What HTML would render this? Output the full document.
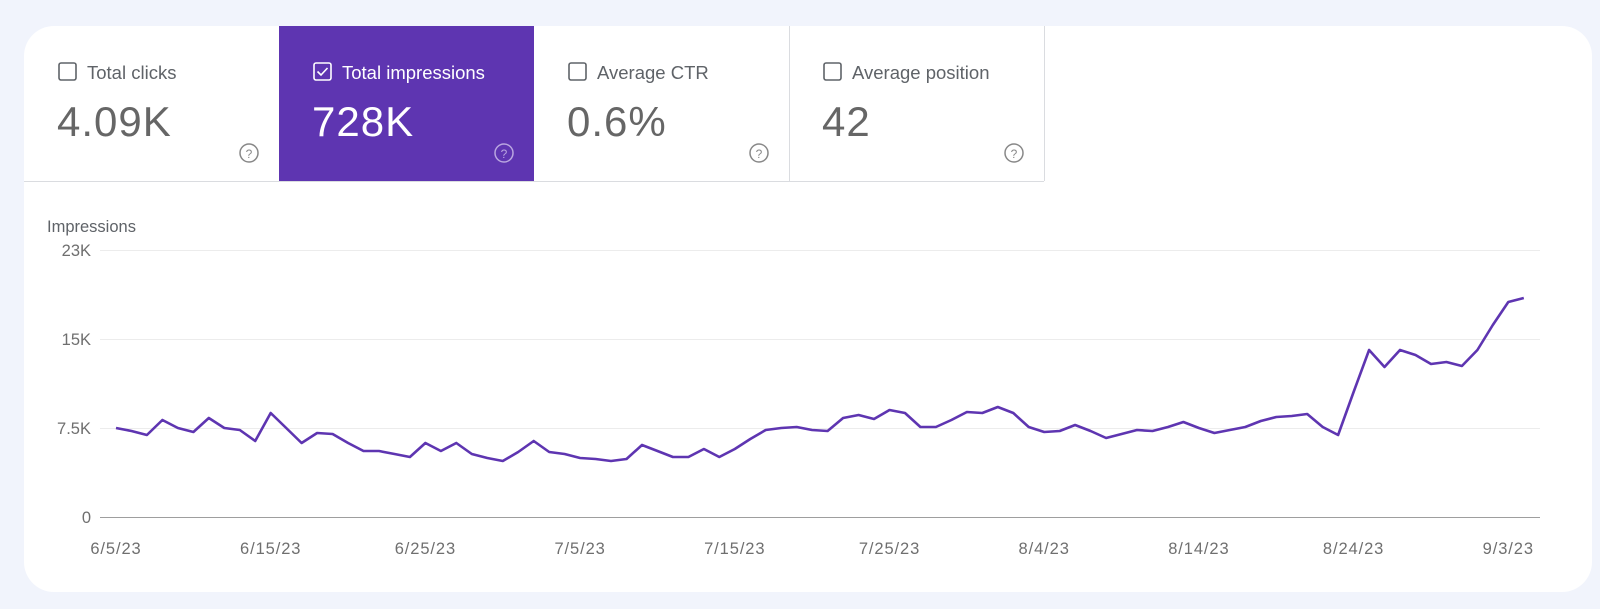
<!DOCTYPE html>
<html><head><meta charset="utf-8"><style>
html,body{margin:0;padding:0;background:#f1f4fc;width:1600px;height:609px;overflow:hidden}
svg{display:block;font-family:"Liberation Sans",Arial,sans-serif}
</style></head><body>
<svg width="1600" height="609" viewBox="0 0 1600 609" xmlns="http://www.w3.org/2000/svg">
<rect x="0" y="0" width="1600" height="609" fill="#f1f4fc"/>
<rect x="24" y="26" width="1568" height="566" rx="30" fill="#ffffff"/>
<!-- tabs -->
<rect x="279" y="26" width="255" height="155" fill="#5e35b1"/>
<line x1="24" y1="181.5" x2="1044" y2="181.5" stroke="#dadce0" stroke-width="1"/>
<line x1="789.5" y1="26" x2="789.5" y2="181" stroke="#dadce0"/>
<line x1="1044.5" y1="26" x2="1044.5" y2="181" stroke="#dadce0"/>
<!-- tab1 -->
<rect x="59" y="63" width="17" height="17" rx="2" fill="none" stroke="#5f6368" stroke-width="1.6"/>
<text x="87" y="79" font-size="18.5" fill="#5f6368">Total clicks</text>
<text x="57" y="136" font-size="42" letter-spacing="1" fill="#666">4.09K</text>
<circle cx="249" cy="153" r="9" fill="none" stroke="#888" stroke-width="1.5"/>
<text x="249" y="158" font-size="12" fill="#888" text-anchor="middle">?</text>
<!-- tab2 -->
<rect x="314" y="63" width="17" height="17" rx="2" fill="none" stroke="#fff" stroke-width="1.6"/>
<path d="M317.5 71.5 l3.5 3.5 l6.5 -7" fill="none" stroke="#fff" stroke-width="1.6"/>
<text x="342" y="79" font-size="18.5" fill="#fff">Total impressions</text>
<text x="312" y="136" font-size="42" letter-spacing="1" fill="#fff">728K</text>
<circle cx="504" cy="153" r="9" fill="none" stroke="#b9a6e0" stroke-width="1.5"/>
<text x="504" y="158" font-size="12" fill="#b9a6e0" text-anchor="middle">?</text>
<!-- tab3 -->
<rect x="569" y="63" width="17" height="17" rx="2" fill="none" stroke="#5f6368" stroke-width="1.6"/>
<text x="597" y="79" font-size="18.5" fill="#5f6368">Average CTR</text>
<text x="567" y="136" font-size="42" letter-spacing="1" fill="#666">0.6%</text>
<circle cx="759" cy="153" r="9" fill="none" stroke="#888" stroke-width="1.5"/>
<text x="759" y="158" font-size="12" fill="#888" text-anchor="middle">?</text>
<!-- tab4 -->
<rect x="824" y="63" width="17" height="17" rx="2" fill="none" stroke="#5f6368" stroke-width="1.6"/>
<text x="852" y="79" font-size="18.5" fill="#5f6368">Average position</text>
<text x="822" y="136" font-size="42" letter-spacing="1" fill="#666">42</text>
<circle cx="1014" cy="153" r="9" fill="none" stroke="#888" stroke-width="1.5"/>
<text x="1014" y="158" font-size="12" fill="#888" text-anchor="middle">?</text>
<!-- chart -->
<text x="47" y="232" font-size="16.5" fill="#5f6368">Impressions</text>
<g stroke="#ececec" stroke-width="1">
<line x1="100" y1="250.5" x2="1540" y2="250.5"/>
<line x1="100" y1="339.5" x2="1540" y2="339.5"/>
<line x1="100" y1="428.5" x2="1540" y2="428.5"/>
</g>
<line x1="100" y1="517.5" x2="1540" y2="517.5" stroke="#9e9e9e" stroke-width="1"/>
<g font-size="16.5" fill="#6f6f6f" text-anchor="end">
<text x="91" y="256">23K</text>
<text x="91" y="345">15K</text>
<text x="91" y="434">7.5K</text>
<text x="91" y="523">0</text>
</g>
<g font-size="16.5" fill="#6f6f6f" text-anchor="middle" letter-spacing="0.9">
<text x="116" y="554">6/5/23</text>
<text x="270.7" y="554">6/15/23</text>
<text x="425.4" y="554">6/25/23</text>
<text x="580.1" y="554">7/5/23</text>
<text x="734.8" y="554">7/15/23</text>
<text x="889.5" y="554">7/25/23</text>
<text x="1044.2" y="554">8/4/23</text>
<text x="1198.9" y="554">8/14/23</text>
<text x="1353.6" y="554">8/24/23</text>
<text x="1508.3" y="554">9/3/23</text>
</g>
<polyline id="ln" fill="none" stroke="#5e35b1" stroke-width="2.6" stroke-linejoin="round" points=""/>
</svg>
<script>
var ys=[428,431,435,420,428,432,418,428,430,441,413,428,443,433,434,443,451,451,454,457,443,451,443,454,458,461,452,441,452,454,458,459,461,
459,445,451,457,457,449,457,449,439,430,428,427,430,431,418,415,419,410,413,427,427,420,412,413,407,413,427,432,431,425,431,438,
434,430,431,427,422,428,433,430,427,421,417,416,414,427,435,392,350,367,350,355,364,362,366,350,325,302,298];
var p=[];for(var i=0;i<ys.length;i++){p.push((116+i*15.47).toFixed(1)+","+ys[i]);}
document.getElementById("ln").setAttribute("points",p.join(" "));
</script>
</body></html>
